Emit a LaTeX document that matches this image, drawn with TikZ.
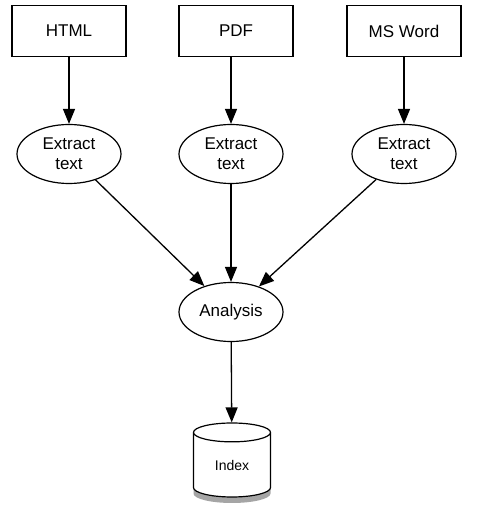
\documentclass[tikz,border=0pt]{standalone}
\usepackage{fontspec}
\setmainfont{Liberation Sans}
\usepackage{tikz}
\usetikzlibrary{arrows.meta,shapes.geometric,shadows}

\tikzset{
	src/.style={draw,line width=1.2pt,minimum width=114pt,minimum height=51pt,inner sep=0pt,font=\fontsize{17}{20}\selectfont},
	proc/.style={draw,ellipse,line width=1.2pt,minimum width=104pt,minimum height=59pt,inner sep=0pt,align=center,font=\fontsize{17}{20}\selectfont},
	store/.style={draw,cylinder,shape border rotate=90,aspect=0.55,line width=1.2pt,fill=white,minimum width=77pt,minimum height=74pt,inner sep=0pt,font=\fontsize{14}{16}\selectfont,drop shadow={shadow xshift=0pt,shadow yshift=-6pt,opacity=0.5,fill=black!70}}
}

\begin{document}
\begin{tikzpicture}[x=1pt,y=1pt]
		\useasboundingbox (0,0) rectangle (478,-529);
		\node[src] (HT) at (69,-31) {HTML};
		\node[src] (PD) at (236,-31) {PDF};
		\node[src] (MW) at (404,-31) {MS Word};
		\node[proc] (EX1) at (69,-154) {Extract\\text};
		\node[proc] (EX2) at (231,-154) {Extract\\text};
		\node[proc] (EX3) at (404,-154) {Extract\\text};
		\node[proc] (AN) at (231,-312) {Analysis};
		\node[store] (IX) at (232,-465) {Index};
		%
		\path[-{Triangle[length=15pt,width=12pt]},line width=1.3pt]
		(HT) edge (EX1)
		(EX2 |- PD.south) edge (EX2)
		(MW) edge (EX3)
		(EX1) edge (AN)
		(EX2) edge (AN)
		(EX3) edge (AN)
		(AN) edge (IX);
\end{tikzpicture}
\end{document}
